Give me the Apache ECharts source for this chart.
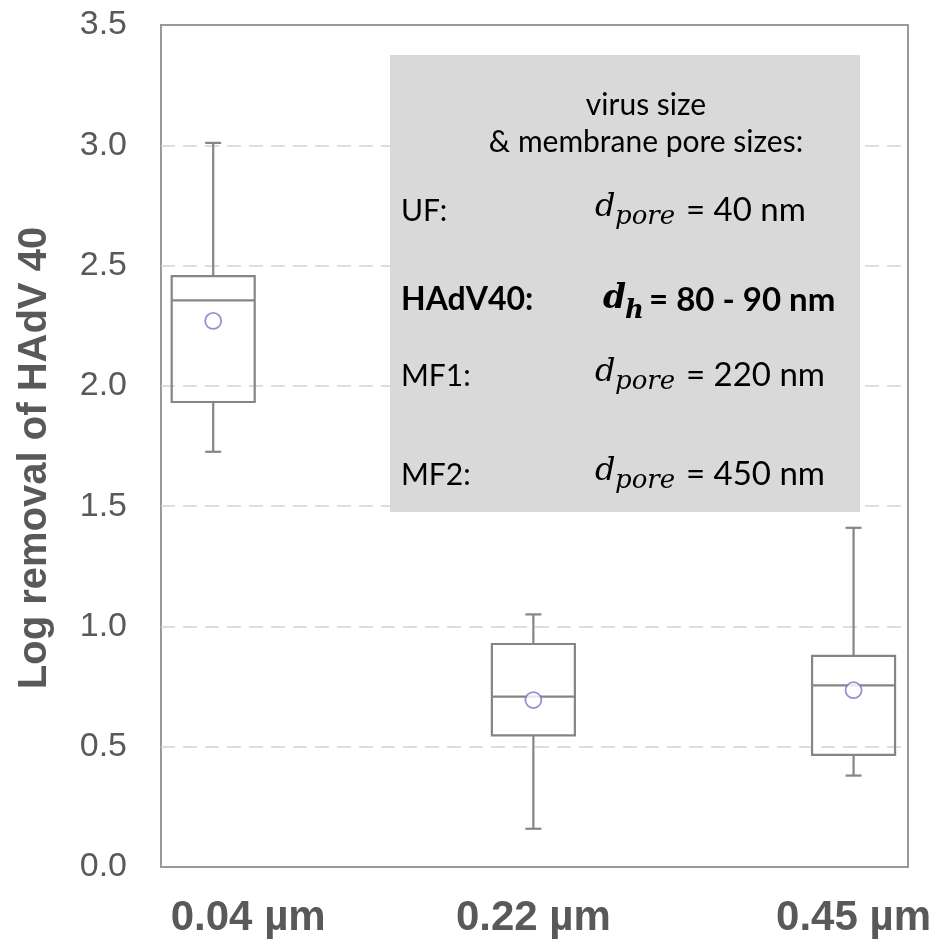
<!DOCTYPE html>
<html>
<head>
<meta charset="utf-8">
<title>Log removal of HAdV 40</title>
<script src="https://cdn.jsdelivr.net/npm/echarts@6.0.0/dist/echarts.min.js"></script>
<style>
  html, body { margin: 0; padding: 0; background: #fff; }
  #chart { width: 942px; height: 950px; }
</style>
</head>
<body>
<div id="chart"></div>
<script>
// membrane pore sizes on the x axis
const categories = ['0.04 µm', '0.22 µm', '0.45 µm'];
// box plot values
const lows = [1.726, 0.159, 0.38];
const q1s = [1.933, 0.547, 0.466];
const medians = [2.355, 0.708, 0.755];
const q3s = [2.456, 0.927, 0.878];
const highs = [3.01, 1.05, 1.41];
const means = [2.27, 0.694, 0.735];
const yTicks = [0, 0.5, 1.0, 1.5, 2.0, 2.5, 3.0, 3.5];

const boxColor = '#858585';
const textColor = '#595959';

const boxData = categories.map(function (c, i) {
  return [i + 1, lows[i], q1s[i], medians[i], q3s[i], highs[i]];
});
const meanData = categories.map(function (c, i) {
  return [i + 1, means[i]];
});

function renderBox(params, api) {
  const x = api.value(0);
  const pLow = api.coord([x, api.value(1)]);
  const pQ1 = api.coord([x, api.value(2)]);
  const pMed = api.coord([x, api.value(3)]);
  const pQ3 = api.coord([x, api.value(4)]);
  const pHigh = api.coord([x, api.value(5)]);
  const cx = pLow[0];
  const hw = 41.5, cw = 8;
  const st = { stroke: boxColor, lineWidth: 2.2, fill: 'none' };
  return {
    type: 'group',
    children: [
      { type: 'line', shape: { x1: cx, y1: pLow[1], x2: cx, y2: pQ1[1] }, style: st },
      { type: 'line', shape: { x1: cx, y1: pQ3[1], x2: cx, y2: pHigh[1] }, style: st },
      { type: 'line', shape: { x1: cx - cw, y1: pLow[1], x2: cx + cw, y2: pLow[1] }, style: st },
      { type: 'line', shape: { x1: cx - cw, y1: pHigh[1], x2: cx + cw, y2: pHigh[1] }, style: st },
      { type: 'rect', shape: { x: cx - hw, y: pQ3[1], width: hw * 2, height: pQ1[1] - pQ3[1] }, style: st },
      { type: 'line', shape: { x1: cx - hw, y1: pMed[1], x2: cx + hw, y2: pMed[1] }, style: st }
    ]
  };
}

const legendFont = 'Lato';
const mathFont = '"DejaVu Serif"';

// one text element of the inset box
function txt(str, x, y, opts) {
  opts = opts || {};
  return {
    type: 'text', x: x, y: y, z: 20,
    style: {
      text: str,
      fontFamily: opts.math ? mathFont : legendFont,
      fontStyle: opts.math ? 'italic' : 'normal',
      fontWeight: opts.bold ? 'bold' : 'normal',
      fontSize: opts.size || 30,
      fill: '#000',
      align: opts.align || 'left',
      verticalAlign: 'middle'
    }
  };
}

const chart = echarts.init(document.getElementById('chart'));
chart.setOption({
  animation: false,
  grid: {
    left: 161, right: 34, top: 25, bottom: 83,
    show: true, borderColor: '#999', borderWidth: 2, backgroundColor: 'transparent'
  },
  xAxis: {
    type: 'value',
    min: 0.837,
    max: 3.17,
    axisLine: { show: false },
    axisTick: { show: false },
    splitLine: { show: false },
    axisLabel: {
      customValues: [1, 2, 3],
      margin: 30,
      fontFamily: '"Liberation Sans"',
      fontSize: 42,
      fontWeight: 'bold',
      color: textColor,
      formatter: function (v) {
        const i = Math.round(v) - 1;
        return i === 0 ? '{s|' + categories[i] + '}' : categories[i];
      },
      rich: {
        s: { padding: [0, 0, 0, 70], fontFamily: '"Liberation Sans"', fontSize: 42, fontWeight: 'bold', color: textColor }
      }
    }
  },
  yAxis: {
    type: 'value',
    min: yTicks[0],
    max: yTicks[yTicks.length - 1],
    interval: 0.5,
    name: 'Log removal of HAdV 40',
    nameLocation: 'middle',
    nameGap: 106,
    nameTextStyle: { fontFamily: '"Liberation Sans"', fontSize: 40, fontWeight: 'bold', color: textColor, padding: [0, 24, 0, 0] },
    axisLine: { show: false },
    axisTick: { show: false },
    axisLabel: {
      margin: 34,
      fontFamily: '"Liberation Sans"',
      fontSize: 34,
      color: textColor,
      formatter: function (v) { return v.toFixed(1); }
    },
    splitLine: {
      show: true,
      showMinLine: false,
      showMaxLine: false,
      lineStyle: { color: '#d3d3d3', width: 1.5, type: [14, 8] }
    }
  },
  series: [
    {
      type: 'custom',
      renderItem: renderBox,
      encode: { x: 0, y: [1, 2, 3, 4, 5] },
      data: boxData,
      z: 3
    },
    {
      type: 'scatter',
      data: meanData,
      symbol: 'circle',
      symbolSize: 16,
      itemStyle: { color: '#fff', borderColor: '#8a70c4', borderWidth: 1.8 },
      z: 4
    }
  ],
  graphic: [
    { type: 'rect', shape: { x: 390, y: 55, width: 470, height: 457 }, style: { fill: '#d9d9d9' }, z: 10 },

    txt('virus size', 646, 105, { align: 'center' }),
    txt('& membrane pore sizes:', 646, 142, { align: 'center' }),

    txt('UF:', 401, 211),
    txt('d', 595, 208, { math: true, size: 32 }),
    txt('pore', 615, 217, { math: true, size: 26 }),
    txt('= 40 nm', 686, 210, { size: 33 }),

    txt('HAdV40:', 401, 300, { bold: true, size: 32 }),
    txt('d', 603, 299, { math: true, bold: true, size: 33 }),
    txt('h', 625, 311, { math: true, bold: true, size: 26 }),
    txt('= 80 - 90 nm', 649, 300, { bold: true, size: 33 }),

    txt('MF1:', 401, 376),
    txt('d', 595, 373, { math: true, size: 32 }),
    txt('pore', 615, 382, { math: true, size: 26 }),
    txt('= 220 nm', 686, 375, { size: 33 }),

    txt('MF2:', 401, 475),
    txt('d', 595, 472, { math: true, size: 32 }),
    txt('pore', 615, 481, { math: true, size: 26 }),
    txt('= 450 nm', 686, 474, { size: 33 })
  ]
});
</script>
</body>
</html>
